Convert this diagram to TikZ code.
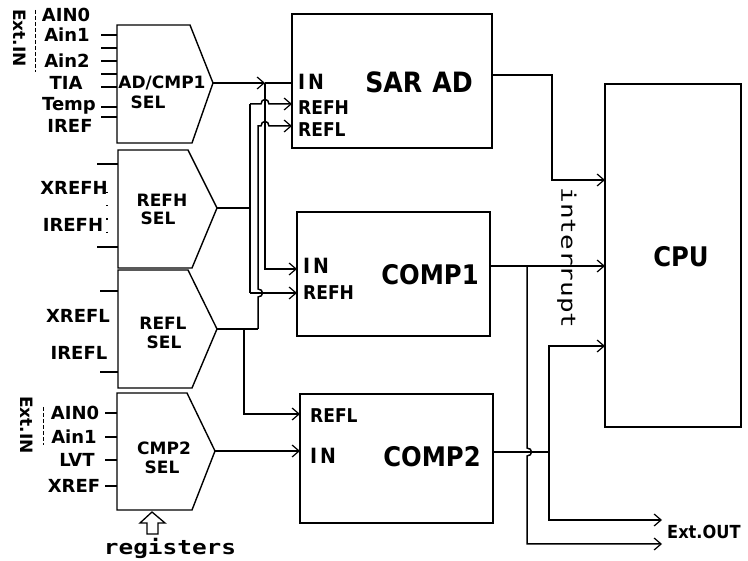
\documentclass[tikz,border=0pt]{standalone}
\usepackage{fontspec}
\setmainfont{DejaVu Sans}
\setmonofont{DejaVu Sans Mono}
\newfontfamily\condf{DejaVu Sans Condensed}
\usetikzlibrary{arrows.meta}
\newcommand\myfs[1]{\fontsize{#1}{#1}\selectfont}
\tikzset{
 ln/.style={line width=1.5pt},
 arr/.style={line width=1.5pt,-{Straight Barb[length=7pt,width=12pt,line width=1.2pt]}},
 box/.style={draw,line width=1.6pt,inner sep=0pt,outer sep=0pt},
 sel/.style={draw,line width=1.4pt,line join=miter},
 lab/.style={font=\bfseries\myfs{18},inner sep=0pt},
 sl/.style={font=\bfseries\myfs{17},inner sep=0pt},
 bl/.style={font=\condf\bfseries\myfs{19},inner sep=0pt,anchor=west},
 big/.style={font=\condf\bfseries\myfs{27},inner sep=0pt},
 dsh/.style={line width=1pt,dash pattern=on 4pt off 2pt},
}
\begin{document}
\begin{tikzpicture}[x=1pt,y=-1pt]
\useasboundingbox (0,0) rectangle (748,561);
% main boxes
\node[box,minimum width=200pt,minimum height=134pt] (sar) at (392,81) {};
\node[box,minimum width=193pt,minimum height=124pt] (c1) at (393.5,274) {};
\node[box,minimum width=193pt,minimum height=129pt] (c2) at (396.5,458.5) {};
\node[box,minimum width=136pt,minimum height=343pt] (cpu) at (673,255.5) {};
% selectors
\draw[sel] (117,25) -- (190,25) -- (213,83) -- (192,143) -- (117,143) -- cycle;
\draw[sel] (118,150) -- (188,150) -- (217,208) -- (192,268) -- (118,268) -- cycle;
\draw[sel] (118,270) -- (188,270) -- (217,329) -- (192,388) -- (118,388) -- cycle;
\draw[sel] (117,393) -- (187,393) -- (215,451) -- (192,510) -- (117,510) -- cycle;
\coordinate (s1) at (213,83);
\coordinate (s2) at (217,208);
\coordinate (s3) at (217,329);
\coordinate (s4) at (215,451);
% input stubs
\foreach \y in {35,48,61,74,87,107,117} \draw[ln] (101,\y) -- (117,\y);
\foreach \y in {164,247} \draw[ln] (97,\y) -- (118,\y);
\foreach \y in {291,372} \draw[ln] (100,\y) -- (118,\y);
\foreach \y in {413,437,460,486} \draw[ln] (105,\y) -- (117,\y);
\draw[dsh] (35,10) -- (35,72);
\draw[dsh] (43,407) -- (43,445);
\draw[line width=1.2pt,dash pattern=on 1.2pt off 12pt] (107,192) -- (107,234);
% left labels
\node[lab] (ain0a) at (66,15) {AIN0};
\node[lab] (ain1a) at (67,35) {Ain1};
\node[lab] (ain2a) at (67,61) {Ain2};
\node[lab] (tia) at (66,83) {TIA};
\node[lab] (temp) at (69,106) {Temp};
\node[lab] (iref) at (70,126) {IREF};
\node[lab] (xrefh) at (74,188) {XREFH};
\node[lab] (irefh) at (73,225) {IREFH};
\node[lab] (xrefl) at (78,316) {XREFL};
\node[lab] (irefl) at (79,353) {IREFL};
\node[lab] (ain0b) at (75,413) {AIN0};
\node[lab] (ain1b) at (74,437) {Ain1};
\node[lab] (lvt) at (77,460) {LVT};
\node[lab] (xref) at (74,486) {XREF};
\node[inner sep=0pt,font=\bfseries\myfs{17},rotate=-90] (extin1) at (20,38) {Ext.IN};
\node[inner sep=0pt,font=\bfseries\myfs{17},rotate=-90] (extin2) at (27,425) {Ext.IN};
% selector labels
\node[sl] (sa1) at (162,83) {AD/CMP1};
\node[sl] (sa2) at (148,102) {SEL};
\node[sl] (sb1) at (162,200) {REFH};
\node[sl] (sb2) at (158,218) {SEL};
\node[sl] (sc1) at (163,323) {REFL};
\node[sl] (sc2) at (164,342) {SEL};
\node[sl] (sd1) at (164,448) {CMP2};
\node[sl] (sd2) at (162,467) {SEL};
% registers
\draw[ln,line width=1.3pt] (152,512) -- (165,523) -- (158,523) -- (158,534) -- (147,534) -- (147,523) -- (140,523) -- cycle;
\node[inner sep=0pt] (reg) at (170,548) {\scalebox{1.22}[1]{\ttfamily\bfseries\myfs{20}registers}};
% box labels
\node[bl,font=\condf\bfseries\myfs{21}] (sarin) at (298,82) {I\hspace{3pt}N};
\node[big,font=\condf\bfseries\myfs{28}] (sart) at (419,82) {SAR\hspace{10pt}AD};
\node[bl] (sarh) at (298,108) {REFH};
\node[bl] (sarl) at (298,130) {REFL};
\node[bl,font=\condf\bfseries\myfs{21}] (c1in) at (303,266) {I\hspace{3pt}N};
\node[bl] (c1h) at (303,293) {REFH};
\node[big] (c1t) at (430,275) {COMP1};
\node[bl] (c2l) at (310,416) {REFL};
\node[bl,font=\condf\bfseries\myfs{21}] (c2in) at (310,456) {I\hspace{3pt}N};
\node[big] (c2t) at (432,457) {COMP2};
\node[big] (cput) at (681,257) {CPU};
\node[inner sep=0pt,rotate=-90] (intr) at (567,258) {\scalebox{1.3}[1]{\ttfamily\myfs{20}interrupt}};
\node[inner sep=0pt,anchor=west,font=\condf\bfseries\myfs{18}] (extout) at (667,532) {Ext.OUT};
% junction coordinates
\coordinate (j1) at (265,83);
\coordinate (j1b) at (265,269);
\coordinate (j2) at (250,208);
\coordinate (j2t) at (250,104);
\coordinate (j2b) at (250,293);
\coordinate (j3) at (258,329);
\coordinate (j3a) at (244,329);
\coordinate (j3b) at (244,414);
\coordinate (j3t) at (258,126);
% input wiring
\draw[arr] (s1) -- (j1);
\draw[ln] (j1) -- (j1 -| sar.west);
\draw[arr] (j1) -- (j1b) -- (j1b -| c1.west);
\draw[ln] (s2) -- (j2);
\draw[ln] (j2t) -- (j2b);
\draw[arr] (j2t) -- (261,104) .. controls (261,98) and (269,98) .. (269,104) -- (j2t -| sar.west);
\draw[arr] (j2b) -- (j2b -| c1.west);
\draw[ln] (s3) -- (j3);
\draw[arr] (j3) -- (258,297) .. controls (264,297) and (264,289) .. (258,289) -- (j3t) -- (261,126) .. controls (261,120) and (269,120) .. (269,126) -- (j3t -| sar.west);
\draw[arr] (j3a) -- (j3b) -- (j3b -| c2.west);
\draw[arr] (s4) -- (s4 -| c2.west);
% output wiring
\coordinate (o1) at (492,75);
\coordinate (k1) at (552,75);
\coordinate (k1b) at (552,180);
\draw[arr] (o1) -- (k1) -- (k1b) -- (k1b -| cpu.west);
\coordinate (o2) at (490,266);
\draw[arr] (o2) -- (o2 -| cpu.west);
\coordinate (k2) at (527,266);
\coordinate (k2b) at (527,544);
\coordinate (eo2) at (662,544);
\draw[arr] (k2) -- (527,448) .. controls (533,448) and (533,456) .. (527,456) -- (k2b) -- (eo2);
\coordinate (o3) at (493,452);
\coordinate (k3) at (549,452);
\coordinate (k3t) at (549,346);
\coordinate (k3b) at (549,520);
\coordinate (eo1) at (662,520);
\draw[ln] (o3) -- (k3);
\draw[arr] (k3) -- (k3t) -- (k3t -| cpu.west);
\draw[arr] (k3) -- (k3b) -- (eo1);
\end{tikzpicture}
\end{document}
